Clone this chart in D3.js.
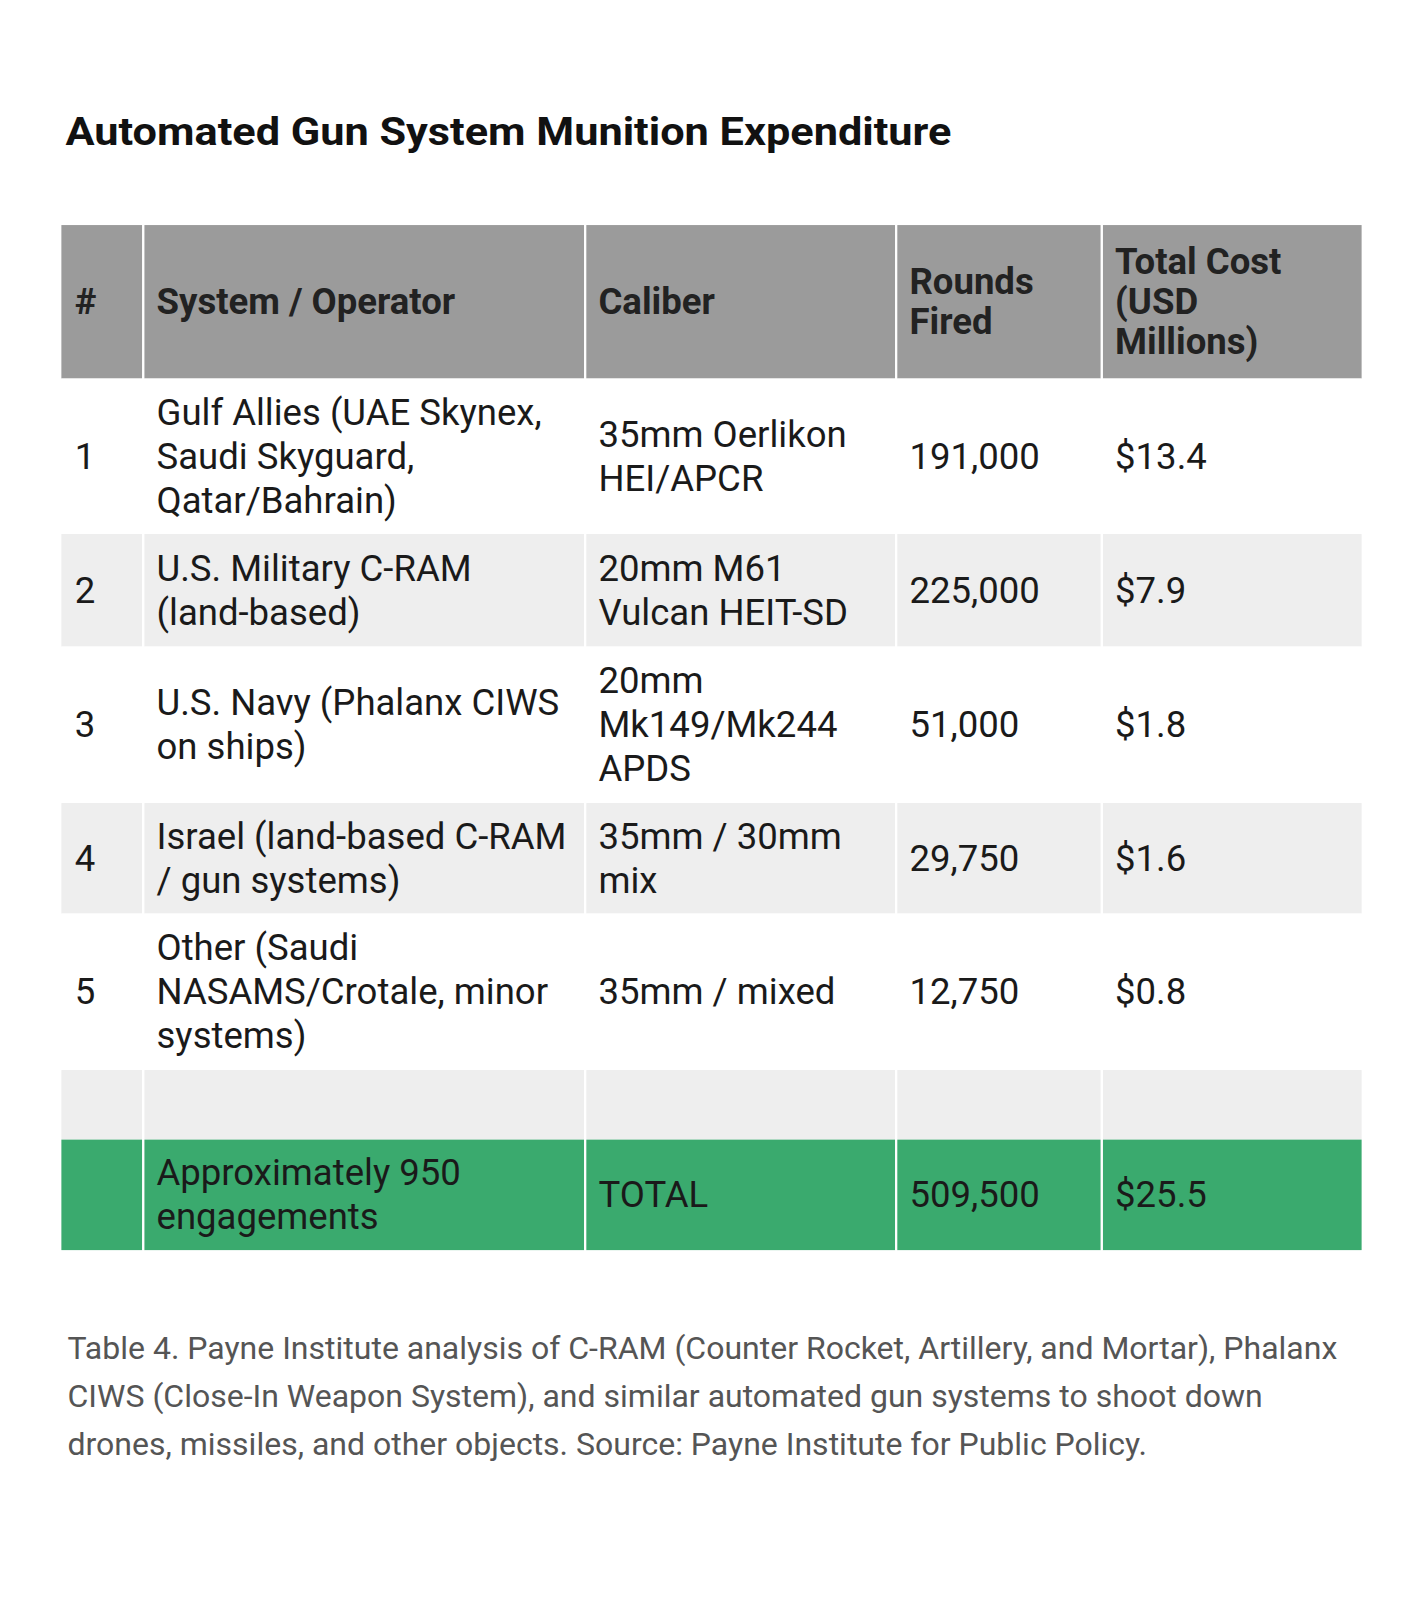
<!DOCTYPE html>
<html><head><meta charset="utf-8">
<script src="https://cdn.jsdelivr.net/npm/d3@7"></script>
<style>body{margin:0;background:#fff}</style>
</head><body>
<script>
// table content (line breaks as in the source)
var headers = ["#", "System / Operator", "Caliber", "Rounds\nFired", "Total Cost\n(USD\nMillions)"];
var ids = ["1", "2", "3", "4", "5", "", ""];
var systems = ["Gulf Allies (UAE Skynex,\nSaudi Skyguard,\nQatar/Bahrain)", "U.S. Military C-RAM\n(land-based)",
  "U.S. Navy (Phalanx CIWS\non ships)", "Israel (land-based C-RAM\n/ gun systems)",
  "Other (Saudi\nNASAMS/Crotale, minor\nsystems)", "", "Approximately 950\nengagements"];
var calibers = ["35mm Oerlikon\nHEI/APCR", "20mm M61\nVulcan HEIT-SD", "20mm\nMk149/Mk244\nAPDS", "35mm / 30mm\nmix", "35mm / mixed", "", "TOTAL"];
var rounds = ["191,000", "225,000", "51,000", "29,750", "12,750", "", "509,500"];
var costs = ["$13.4", "$7.9", "$1.8", "$1.6", "$0.8", "", "$25.5"];
var colEdges = [60, 140, 572, 876, 1077, 1332];
var rowEdges = [220, 370, 522, 632, 785, 893, 1046, 1114, 1222];

var svg = d3.select("body").append("svg").attr("width", 1425).attr("height", 1600);
var g = svg.append("g").attr("transform", "scale(1.023)");

g.append("text").attr("x", 64).attr("y", 142).text("Automated Gun System Munition Expenditure")
  .attr("font-family", "Roboto").attr("font-weight", 700).attr("font-size", 38).attr("fill", "#111")
  .attr("textLength", 866).attr("lengthAdjust", "spacingAndGlyphs");

var rows = [headers].concat(ids.map(function(d, i) { return [d, systems[i], calibers[i], rounds[i], costs[i]]; }));

rows.forEach(function(r, ri) {
  var y0 = rowEdges[ri], y1 = rowEdges[ri + 1];
  var fill = ri == 0 ? "#9b9b9b" : ri == 7 ? "#3aaa6e" : (ri % 2 == 0 || ri == 6) ? "#eeeeee" : "#ffffff";
  r.forEach(function(cell, ci) {
    var x0 = colEdges[ci], x1 = colEdges[ci + 1];
    g.append("rect").attr("x", x0 + (ci > 0 ? 1 : 0)).attr("y", y0).attr("width", x1 - x0 - (ci > 0 ? 1 : 0) - 1)
      .attr("height", y1 - y0).attr("fill", fill);
    if (!cell) return;
    var lines = cell.split("\n");
    var lh = ri == 0 ? 39 : 43;
    var mid = (y0 + y1) / 2;
    var t = g.append("text").attr("font-family", "Roboto")
      .attr("font-size", 35.7).attr("font-weight", ri == 0 ? 700 : 400)
      .attr("fill", ri == 0 ? "#222" : "#1a1a1a");
    lines.forEach(function(l, li) {
      t.append("tspan").attr("x", x0 + 13).attr("y", mid + (li - (lines.length - 1) / 2) * lh + 12).text(l);
    });
  });
});
// white column separators
g.selectAll("line.sep").data(colEdges.slice(1, 5)).enter().append("line")
  .attr("x1", function(d) { return d; }).attr("x2", function(d) { return d; })
  .attr("y1", 220).attr("y2", 1222).attr("stroke", "#fff").attr("stroke-width", 2);

var caption = ["Table 4. Payne Institute analysis of C-RAM (Counter Rocket, Artillery, and Mortar), Phalanx",
  "CIWS (Close-In Weapon System), and similar automated gun systems to shoot down",
  "drones, missiles, and other objects. Source: Payne Institute for Public Policy."];
g.selectAll("text.cap").data(caption).enter().append("text").attr("class", "cap")
  .attr("x", 66).attr("y", function(d, i) { return 1328 + i * 47; }).text(function(d) { return d; })
  .attr("font-family", "Roboto").attr("font-size", 31.3).attr("fill", "#555");
</script>
</body></html>
